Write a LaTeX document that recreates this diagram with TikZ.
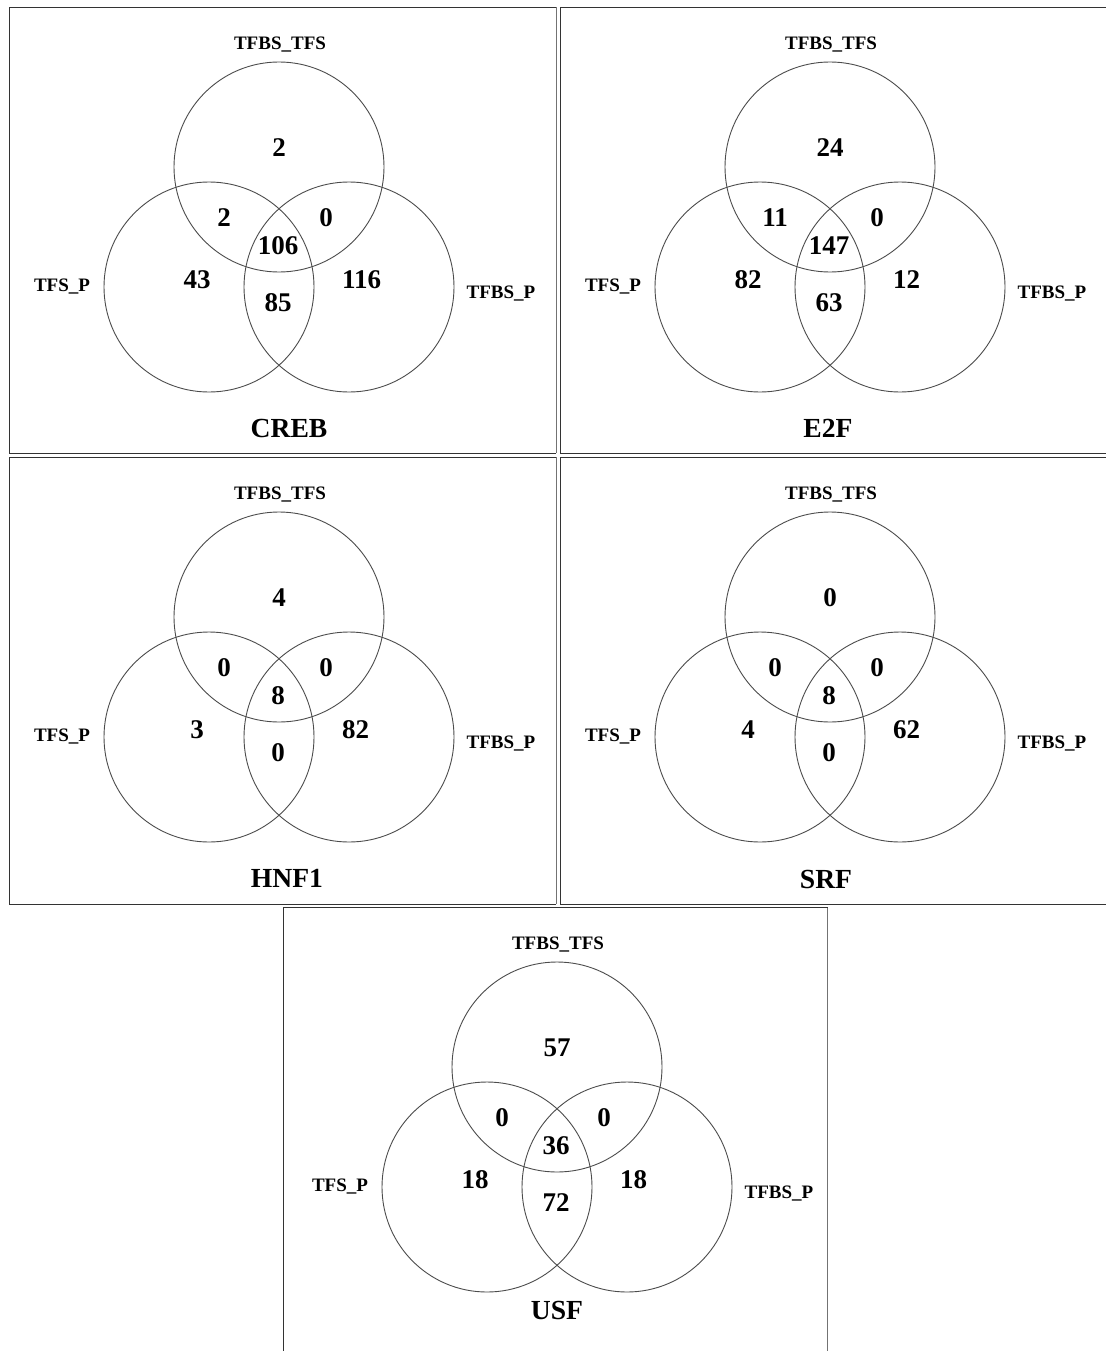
\documentclass[tikz,border=0pt]{standalone}
\usepackage{fontspec}
\setmainfont{Liberation Serif}
\begin{document}
\begin{tikzpicture}[x=1pt,y=-1pt,
  frame/.style={draw=black!80,line width=1pt},
  framelight/.style={draw=black!55,line width=1pt},
  setcircle/.style={draw=black!70,line width=0.9pt},
  setname/.style={inner sep=0pt,font=\fontsize{19}{19}\selectfont\bfseries,text height=12.5pt,text depth=0pt},
  count/.style={inner sep=0pt,font=\fontsize{27}{27}\selectfont\bfseries,text height=18.2pt,text depth=0pt},
  paneltitle/.style={inner sep=0pt,font=\fontsize{27.6}{27.6}\selectfont\bfseries,text height=18.3pt,text depth=0pt}]
\useasboundingbox (0,0) rectangle (1105,1351);
\fill[white] (0,0) rectangle (1105,1351);

% one three-set Venn panel: #1 name prefix, #2..#8 region counts
% (top only, top+left, top+right, all three, left only, right only, left+right)
\newcommand\vennpanel[8]{%
  \draw[setcircle] (279,167) circle[radius=105];
  \draw[setcircle] (209,287) circle[radius=105];
  \draw[setcircle] (349,287) circle[radius=105];
  \node[setname] (#1-tt) at (280,43) {TFBS\_TFS};
  \node[setname] (#1-tp) at (62,285) {TFS\_P};
  \node[setname] (#1-bp) at (501,292) {TFBS\_P};
  \node[count] (#1-n1) at (279,147) {#2};
  \node[count] (#1-n2) at (224,217) {#3};
  \node[count] (#1-n3) at (326,217) {#4};
  \node[count] (#1-n4) at (278,245) {#5};
  \node[count] (#1-n5) at (197,279) {#6};
  \node[count,anchor=west] (#1-n6) at (342,279) {#7};
  \node[count] (#1-n7) at (278,302) {#8};
}

% panel frames
\draw[frame] (556,453) -- (9,453) -- (9,7.5) -- (556,7.5);
\draw[framelight] (556,7.5) -- (556,453);
\draw[frame] (560,453) -- (1110,453);
\draw[frame] (560,453) -- (560,7.5) -- (1110,7.5);
\draw[frame] (556,904) -- (9,904) -- (9,457) -- (556,457);
\draw[framelight] (556,457) -- (556,904);
\draw[frame] (560,904) -- (1110,904);
\draw[frame] (560,904) -- (560,457) -- (1110,457);
\draw[frame] (283,1360) -- (283,907.5) -- (827.5,907.5);
\draw[framelight] (827.5,907.5) -- (827.5,1360);

\begin{scope}
  \vennpanel{creb}{2}{2}{0}{106}{43}{116}{85}
  \node[paneltitle] (creb-title) at (289,428) {CREB};
\end{scope}

\begin{scope}[shift={(551,0)}]
  \vennpanel{e2f}{24}{11}{0}{147}{82}{12}{63}
  \node[paneltitle] (e2f-title) at (277,428) {E2F};
\end{scope}

\begin{scope}[shift={(0,450)}]
  \vennpanel{hnf}{4}{0}{0}{8}{3}{82}{0}
  \node[paneltitle] (hnf-title) at (287,428) {HNF1};
\end{scope}

\begin{scope}[shift={(551,450)}]
  \vennpanel{srf}{0}{0}{0}{8}{4}{62}{0}
  \node[paneltitle] (srf-title) at (275,429) {SRF};
\end{scope}

\begin{scope}[shift={(278,900)}]
  \vennpanel{usf}{57}{0}{0}{36}{18}{18}{72}
  \node[paneltitle] (usf-title) at (279,410) {USF};
\end{scope}
\end{tikzpicture}
\end{document}
